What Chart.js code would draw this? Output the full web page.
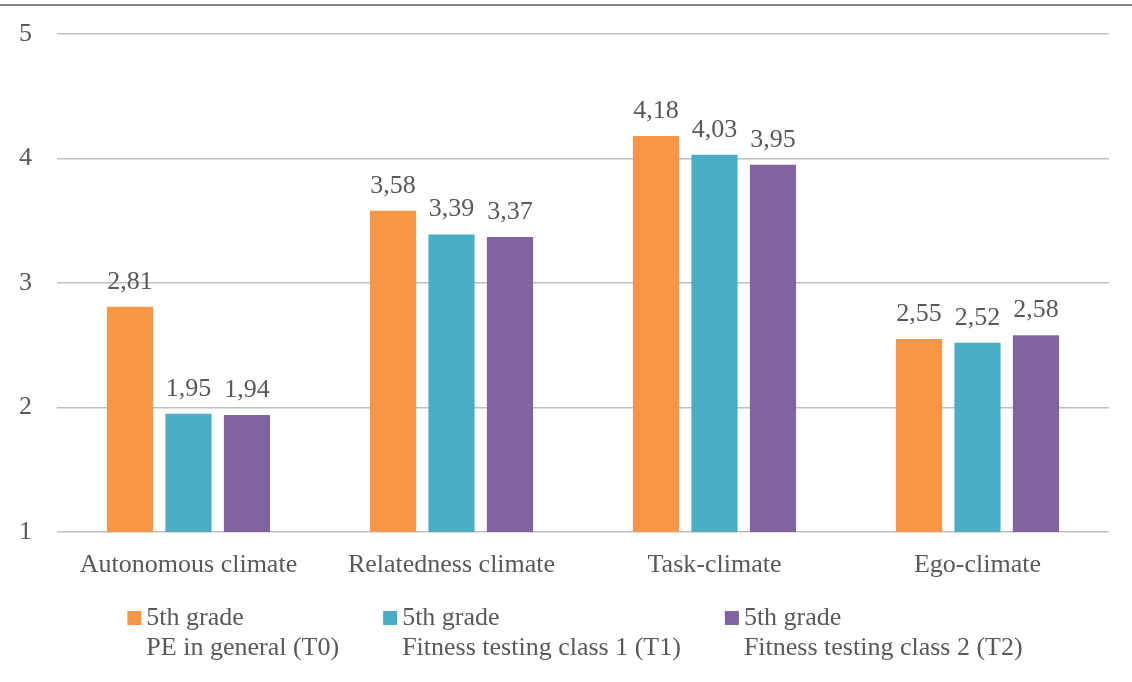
<!DOCTYPE html>
<html>
<head>
<meta charset="utf-8">
<script src="https://cdn.jsdelivr.net/npm/chart.js@4.4.1/dist/chart.umd.min.js"></script>
<style>
  html, body { margin: 0; padding: 0; background: #ffffff; }
  #wrap { width: 1132px; height: 682px; }
</style>
</head>
<body>
<div id="wrap"><canvas id="chart" width="1132" height="682"></canvas></div>
<script>
// Mean climate scores per dimension, 5th grade, three measurement points
const categories = ['Autonomous climate', 'Relatedness climate', 'Task-climate', 'Ego-climate'];
const seriesLabels = [
  ['5th grade', 'PE in general (T0)'],
  ['5th grade', 'Fitness testing class 1 (T1)'],
  ['5th grade', 'Fitness testing class 2 (T2)']
];
const t0Values = [2.81, 3.58, 4.18, 2.55];
const t1Values = [1.95, 3.39, 4.03, 2.52];
const t2Values = [1.94, 3.37, 3.95, 2.58];
const yTicks = [1, 2, 3, 4, 5];

const palette = ['#F79646', '#4BACC6', '#8064A2'];
const FONT_FAMILY = "'Liberation Serif', 'Times New Roman', serif";
const FONT_SIZE = 26;
const TEXT_COLOR = '#595959';

// Thin dark rule across the very top of the figure
const topRule = {
  id: 'topRule',
  beforeDraw(chart) {
    const ctx = chart.ctx;
    ctx.save();
    ctx.strokeStyle = '#5a5a5a';
    ctx.lineWidth = 1.5;
    ctx.beginPath();
    ctx.moveTo(0, 5);
    ctx.lineTo(chart.width, 5);
    ctx.stroke();
    ctx.restore();
  }
};

// Value labels above each bar, decimal comma
const valueLabels = {
  id: 'valueLabels',
  afterDatasetsDraw(chart) {
    const ctx = chart.ctx;
    ctx.save();
    ctx.font = FONT_SIZE + 'px ' + FONT_FAMILY;
    ctx.fillStyle = TEXT_COLOR;
    ctx.textAlign = 'center';
    ctx.textBaseline = 'alphabetic';
    chart.data.datasets.forEach((ds, di) => {
      const meta = chart.getDatasetMeta(di);
      meta.data.forEach((bar, i) => {
        const txt = ds.data[i].toFixed(2).replace('.', ',');
        ctx.fillText(txt, bar.x, bar.y - 18);
      });
    });
    ctx.restore();
  }
};

// Two-line legend below the category axis
const splitLegend = {
  id: 'splitLegend',
  afterDraw(chart) {
    const ctx = chart.ctx;
    const area = chart.chartArea;
    const box = 14, gap = 5, spacing = 44;
    ctx.save();
    ctx.font = FONT_SIZE + 'px ' + FONT_FAMILY;
    const items = chart.data.datasets.map(ds => {
      const lines = ds.legendLines;
      const w = Math.max(...lines.map(l => ctx.measureText(l).width));
      return { lines, w, color: ds.backgroundColor };
    });
    const total = items.reduce((s, it) => s + box + gap + it.w, 0) + spacing * (items.length - 1);
    let x = (chart.width - total) / 2 + 9;
    const base1 = area.bottom + 93;
    const base2 = area.bottom + 123;
    ctx.textAlign = 'left';
    ctx.textBaseline = 'alphabetic';
    items.forEach(it => {
      ctx.fillStyle = it.color;
      ctx.fillRect(x, base1 - box, box, box);
      ctx.fillStyle = TEXT_COLOR;
      ctx.fillText(it.lines[0], x + box + gap, base1);
      ctx.fillText(it.lines[1], x + box + gap, base2);
      x += box + gap + it.w + spacing;
    });
    ctx.restore();
  }
};

const seriesValues = [t0Values, t1Values, t2Values];

new Chart(document.getElementById('chart'), {
  type: 'bar',
  data: {
    labels: categories,
    datasets: seriesValues.map((vals, i) => ({
      label: seriesLabels[i].join(' '),
      legendLines: seriesLabels[i],
      data: vals,
      backgroundColor: palette[i],
      borderWidth: 0,
      categoryPercentage: 0.667,
      barPercentage: 0.79
    }))
  },
  options: {
    responsive: false,
    devicePixelRatio: 1,
    animation: false,
    layout: { padding: { left: 0, right: 23, top: 34, bottom: 0 } },
    plugins: {
      legend: { display: false },
      tooltip: { enabled: false }
    },
    scales: {
      x: {
        grid: { display: false },
        border: { display: false },
        ticks: {
          color: TEXT_COLOR,
          font: { family: FONT_FAMILY, size: FONT_SIZE },
          padding: 10,
          maxRotation: 0
        },
        afterFit(scale) { scale.height = 150; }
      },
      y: {
        min: 1,
        max: 5,
        afterBuildTicks(scale) { scale.ticks = yTicks.map(v => ({ value: v })); },
        grid: { color: '#bfbfbf', lineWidth: 1.5, drawTicks: false },
        border: { display: false },
        ticks: {
          color: TEXT_COLOR,
          font: { family: FONT_FAMILY, size: FONT_SIZE },
          padding: 25
        },
        afterFit(scale) {
          scale.width = 57;
          scale.paddingTop = 0;
          scale.paddingBottom = 0;
        }
      }
    }
  },
  plugins: [topRule, valueLabels, splitLegend]
});
</script>
</body>
</html>
